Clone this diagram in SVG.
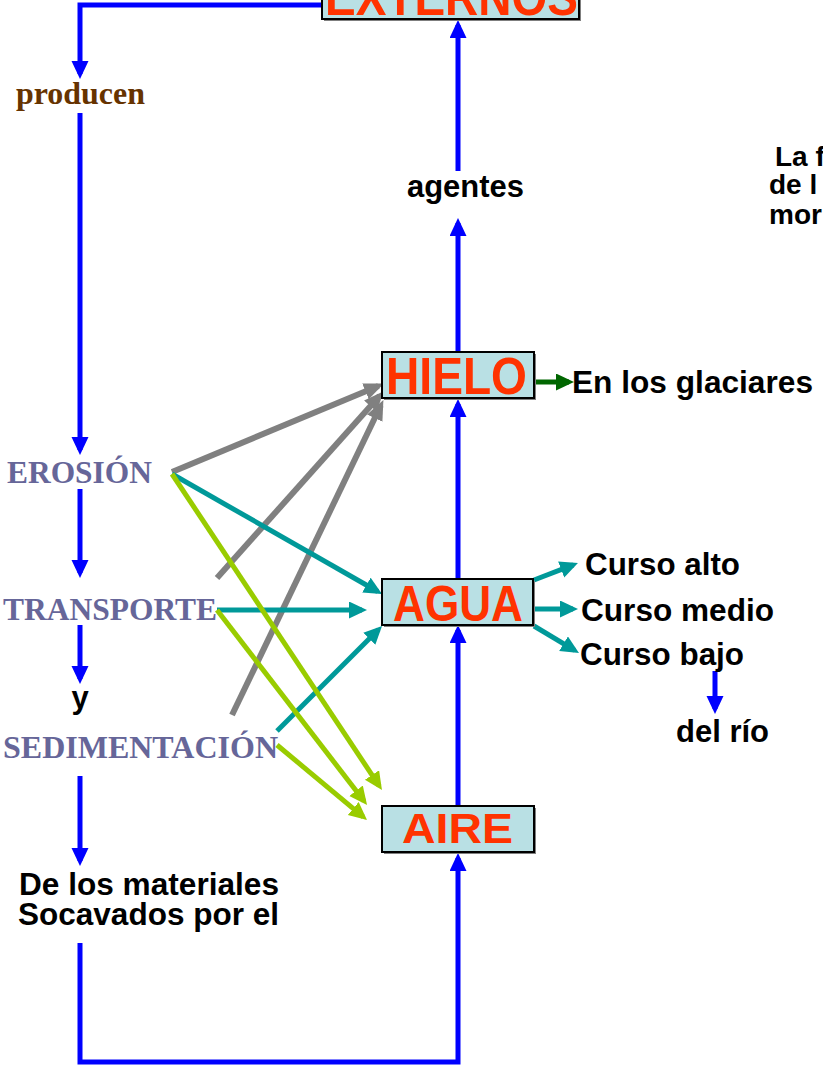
<svg xmlns="http://www.w3.org/2000/svg" width="823" height="1072" viewBox="0 0 823 1072">
<defs>
<style>
.box{fill:#B9E0E4;stroke:#000;stroke-width:2}
.shadow{fill:#7f7f7f}
.agent{font-family:"Liberation Sans",Arial,sans-serif;font-weight:bold;fill:#FF3300;text-anchor:middle}
.lbl{font-family:"Liberation Sans",Arial,sans-serif;font-weight:bold;font-size:31px;fill:#000}
.proc{font-family:"Liberation Serif","Times New Roman",serif;font-weight:bold;font-size:31px;fill:#666699}
.ln{fill:none;stroke-width:5;stroke-linejoin:miter}
.blue{stroke:#0000FF}
.teal{stroke:#009999}
.lime{stroke:#99CC00}
.gray{stroke:#808080;stroke-width:6}
.dgreen{stroke:#006600}
</style>
<marker id="aBlue" markerUnits="userSpaceOnUse" markerWidth="18" markerHeight="18" refX="13" refY="8.5" orient="auto"><path d="M0,0 L18,8.5 L0,17 z" fill="#0000FF"/></marker>
<marker id="aTeal" markerUnits="userSpaceOnUse" markerWidth="18" markerHeight="18" refX="13" refY="8.5" orient="auto"><path d="M0,0 L18,8.5 L0,17 z" fill="#009999"/></marker>
<marker id="aLime" markerUnits="userSpaceOnUse" markerWidth="18" markerHeight="18" refX="13" refY="8.5" orient="auto"><path d="M0,0 L18,8.5 L0,17 z" fill="#99CC00"/></marker>
<marker id="aGray" markerUnits="userSpaceOnUse" markerWidth="20" markerHeight="18" refX="14" refY="8.5" orient="auto"><path d="M0,0 L20,8.5 L0,17 z" fill="#808080"/></marker>
<marker id="aGreen" markerUnits="userSpaceOnUse" markerWidth="18" markerHeight="18" refX="13" refY="8.5" orient="auto"><path d="M0,0 L18,8.5 L0,17 z" fill="#006600"/></marker>
</defs>
<rect width="823" height="1072" fill="#fff"/>

<g id="connectors">
<!-- gray to HIELO -->
<path class="ln gray" d="M172,472 L378.4,385.9" marker-end="url(#aGray)"/>
<path class="ln gray" d="M217,578 L379.7,395.7" marker-end="url(#aGray)"/>
<path class="ln gray" d="M232,715 L380.8,405.5" marker-end="url(#aGray)"/>
<!-- teal to AGUA -->
<path class="ln teal" d="M172,474 L377.7,591.5" marker-end="url(#aTeal)"/>
<path class="ln teal" d="M217,610 H362" marker-end="url(#aTeal)"/>
<path class="ln teal" d="M277,731 L378.5,629.5" marker-end="url(#aTeal)"/>
<!-- lime to AIRE -->
<path class="ln lime" d="M172,474 L379.2,785.8" marker-end="url(#aLime)"/>
<path class="ln lime" d="M217,610 L364,801" marker-end="url(#aLime)"/>
<path class="ln lime" d="M277,745 L363.2,816.8" marker-end="url(#aLime)"/>
<!-- AGUA to cursos -->
<path class="ln teal" d="M534,580 L573.3,564.8" marker-end="url(#aTeal)"/>
<path class="ln teal" d="M534,609 H573" marker-end="url(#aTeal)"/>
<path class="ln teal" d="M534,626 L574.7,650.4" marker-end="url(#aTeal)"/>
<!-- HIELO to glaciares -->
<path class="ln dgreen" d="M534,382 H569" marker-end="url(#aGreen)"/>
<!-- blue flow -->
<path class="ln blue" d="M322,5 H80 V74" marker-end="url(#aBlue)"/>
<path class="ln blue" d="M80,113 V450" marker-end="url(#aBlue)"/>
<path class="ln blue" d="M80,489 V573" marker-end="url(#aBlue)"/>
<path class="ln blue" d="M80,625 V679" marker-end="url(#aBlue)"/>
<path class="ln blue" d="M80,776 V861" marker-end="url(#aBlue)"/>
<path class="ln blue" d="M80,943 V1062 H458 V858" marker-end="url(#aBlue)"/>
<path class="ln blue" d="M458,806 V630" marker-end="url(#aBlue)"/>
<path class="ln blue" d="M458,579 V404" marker-end="url(#aBlue)"/>
<path class="ln blue" d="M458,352 V223" marker-end="url(#aBlue)"/>
<path class="ln blue" d="M458,171 V25" marker-end="url(#aBlue)"/>
<path class="ln blue" d="M715,671 V709" marker-end="url(#aBlue)"/>
</g>

<g id="externos">
<rect class="shadow" x="324" y="-25" width="257" height="46"/>
<rect class="box" x="322" y="-27" width="257" height="46"/>
<text class="agent" x="451.5" y="15" font-size="51" textLength="253" lengthAdjust="spacingAndGlyphs">EXTERNOS</text>
</g>
<g id="hielo">
<rect class="shadow" x="384" y="354" width="152" height="46"/>
<rect class="box" x="382" y="352" width="152" height="46"/>
<text class="agent" x="456.5" y="394" font-size="51" textLength="141" lengthAdjust="spacingAndGlyphs">HIELO</text>
</g>
<g id="agua">
<rect class="shadow" x="384" y="581" width="151" height="46"/>
<rect class="box" x="382" y="579" width="151" height="46"/>
<text class="agent" x="458" y="621" font-size="50" textLength="130" lengthAdjust="spacingAndGlyphs">AGUA</text>
</g>
<g id="aire">
<rect class="shadow" x="384" y="808" width="152" height="46"/>
<rect class="box" x="382" y="806" width="152" height="46"/>
<text class="agent" x="457.5" y="843" font-size="42" textLength="111" lengthAdjust="spacingAndGlyphs">AIRE</text>
</g>

<g id="producen"><text x="16" y="104" style="font-family:'Liberation Serif','Times New Roman',serif;font-weight:bold;font-size:31px;fill:#663300" textLength="129" lengthAdjust="spacingAndGlyphs">producen</text></g>
<g id="erosion"><text class="proc" x="7" y="483" textLength="145" lengthAdjust="spacingAndGlyphs">EROSIÓN</text></g>
<g id="transporte"><text class="proc" x="3" y="620" textLength="214" lengthAdjust="spacingAndGlyphs">TRANSPORTE</text></g>
<g id="y"><text class="lbl" x="80" y="708" text-anchor="middle">y</text></g>
<g id="sedimentacion"><text class="proc" x="3" y="758" textLength="275" lengthAdjust="spacingAndGlyphs">SEDIMENTACIÓN</text></g>
<g id="materiales">
<text class="lbl" x="19" y="895" textLength="260" lengthAdjust="spacingAndGlyphs">De los materiales</text>
<text class="lbl" x="18" y="925" textLength="261" lengthAdjust="spacingAndGlyphs">Socavados por el</text>
</g>
<g id="agentes"><text class="lbl" x="407" y="197" textLength="117" lengthAdjust="spacingAndGlyphs">agentes</text></g>
<g id="glaciares"><text class="lbl" x="572" y="393" textLength="241" lengthAdjust="spacingAndGlyphs">En los glaciares</text></g>
<g id="curso-alto"><text class="lbl" x="585" y="575" textLength="155" lengthAdjust="spacingAndGlyphs">Curso alto</text></g>
<g id="curso-medio"><text class="lbl" x="581" y="621" textLength="193" lengthAdjust="spacingAndGlyphs">Curso medio</text></g>
<g id="curso-bajo"><text class="lbl" x="580" y="665" textLength="164" lengthAdjust="spacingAndGlyphs">Curso bajo</text></g>
<g id="del-rio"><text class="lbl" x="676" y="742" textLength="93" lengthAdjust="spacingAndGlyphs">del río</text></g>
<g id="formacion" style="font-family:'Liberation Sans',Arial,sans-serif;font-weight:bold;font-size:28px;fill:#000">
<text x="775" y="166">La f</text>
<text x="769" y="194">de l</text>
<text x="769" y="224">mor</text>
</g>
</svg>
